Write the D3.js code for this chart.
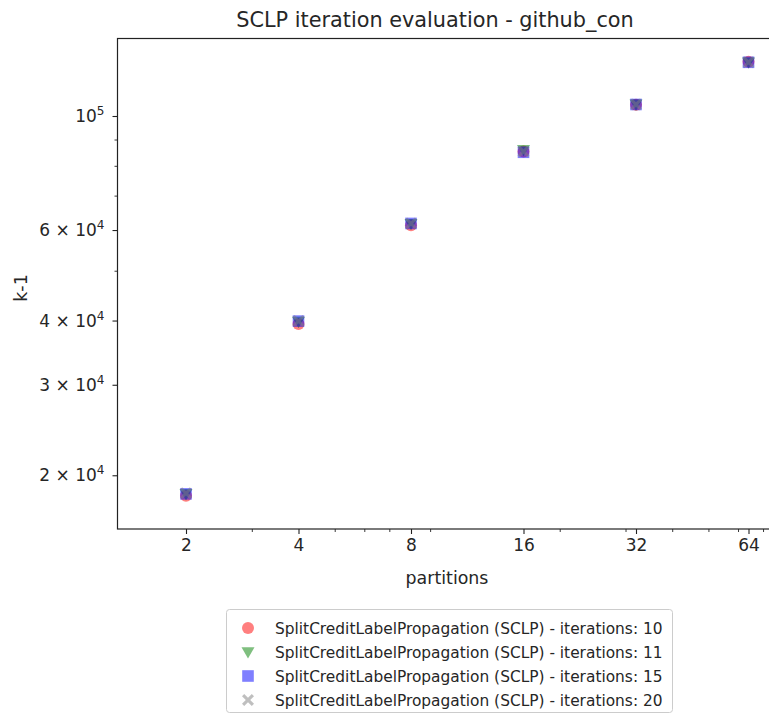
<!DOCTYPE html>
<html><head><meta charset="utf-8">
<script src="https://cdn.jsdelivr.net/npm/d3@7"></script>
<style>body{margin:0;background:#fff;overflow:hidden}svg{display:block}text{font-family:"DejaVu Sans",sans-serif;fill:#262626}</style>
</head><body><div id="chart"></div>
<script>
const partitions = [2, 4, 8, 16, 32, 64];
const iter10 = [18250, 39400, 61300, 85300, 105200, 127500];
const iter11 = [18400, 39800, 61700, 85900, 105300, 127200];
const iter15 = [18400, 39900, 61800, 85000, 105300, 127200];
const iter20 = [18450, 39900, 61800, 85300, 105300, 127200];
const seriesNames = ["SplitCreditLabelPropagation (SCLP) - iterations: 10","SplitCreditLabelPropagation (SCLP) - iterations: 11","SplitCreditLabelPropagation (SCLP) - iterations: 15","SplitCreditLabelPropagation (SCLP) - iterations: 20"];
const seriesValues = [iter10, iter11, iter15, iter20];
const seriesColors = ["#ff0000", "#008000", "#0000ff", "#808080"];
const seriesShapes = ["circle", "triangle", "square", "x"];
const xTicks = [2, 4, 8, 16, 32, 64];
const xMinor = [3,5,6,7,9,20,30,40,50,60,70,80,90];
const yMajor = [20000, 30000, 40000, 60000, 100000];
const yMajorLabels = [["2","4"],["3","4"],["4","4"],["6","4"],[null,"5"]];
const yMinor = [50000, 70000, 80000, 90000];

const W = 769, H = 715;
const L = 117.5, R = 777.5, T = 38.5, B = 529;
const svg = d3.select("#chart").append("svg").attr("width", W).attr("height", H);

const x = d3.scaleLog().base(2)
  .domain([Math.pow(2, 1 - (186 - L) / 112.5), Math.pow(2, 1 + (R - 186) / 112.5)])
  .range([L, R]);
const y = d3.scaleLog().domain([Math.pow(10, 5 - (B - 116) / 514), Math.pow(10, 5 + (116 - T) / 514)]).range([B, T]);

svg.append("clipPath").attr("id","clip").append("rect").attr("x",L).attr("y",T).attr("width",R-L).attr("height",B-T);

function drawMarker(g, shape, cx, cy, color) {
  if (shape === "circle") {
    g.append("circle").attr("cx", cx).attr("cy", cy).attr("r", 6).attr("fill", color).attr("fill-opacity", 0.5);
  } else if (shape === "square") {
    g.append("rect").attr("x", cx - 5.8).attr("y", cy - 5.8).attr("width", 11.6).attr("height", 11.6).attr("fill", color).attr("fill-opacity", 0.5);
  } else if (shape === "triangle") {
    const s = 6.5;
    g.append("path").attr("d", `M${cx - s},${cy - s * 0.75}L${cx + s},${cy - s * 0.75}L${cx},${cy + s}Z`).attr("fill", color).attr("fill-opacity", 0.5);
  } else {
    const a = 6, b = 2.2;
    const p = `M${cx-a+b},${cy-a}L${cx},${cy-b}L${cx+a-b},${cy-a}L${cx+a},${cy-a+b}L${cx+b},${cy}L${cx+a},${cy+a-b}L${cx+a-b},${cy+a}L${cx},${cy+b}L${cx-a+b},${cy+a}L${cx-a},${cy+a-b}L${cx-b},${cy}L${cx-a},${cy-a+b}Z`;
    g.append("path").attr("d", p).attr("fill", color).attr("fill-opacity", 0.5);
  }
}
const plot = svg.append("g").attr("clip-path", "url(#clip)");
seriesValues.forEach((vals, si) => {
  vals.forEach((v, i) => drawMarker(plot, seriesShapes[si], x(partitions[i]), y(v), seriesColors[si]));
});

const stroke = "#222";
const xAxis = d3.axisBottom(x).tickValues(xTicks).tickFormat(d3.format("d")).tickSize(5).tickPadding(5);
const gx = svg.append("g").attr("transform", `translate(0,${B})`).call(xAxis);
gx.select(".domain").remove();
gx.selectAll(".tick line").attr("stroke", stroke).attr("stroke-width", 1.1);
gx.selectAll(".tick text").attr("font-size", 17).attr("font-family", "DejaVu Sans").attr("fill", "#262626");
const gxm = svg.append("g").attr("transform", `translate(0,${B})`).call(d3.axisBottom(x).tickValues(xMinor.filter(v => x(v) <= W)).tickFormat("").tickSize(3));
gxm.select(".domain").remove();
gxm.selectAll(".tick line").attr("stroke", stroke).attr("stroke-width", 0.9);

const gy = svg.append("g").attr("transform", `translate(${L},0)`).call(d3.axisLeft(y).tickValues(yMajor).tickFormat("").tickSize(5));
gy.select(".domain").remove();
gy.selectAll(".tick line").attr("stroke", stroke).attr("stroke-width", 1.1);
const gym = svg.append("g").attr("transform", `translate(${L},0)`).call(d3.axisLeft(y).tickValues(yMinor).tickFormat("").tickSize(3));
gym.select(".domain").remove();
gym.selectAll(".tick line").attr("stroke", stroke).attr("stroke-width", 0.9);
yMajor.forEach((v, i) => {
  const lab = yMajorLabels[i];
  const t = svg.append("text").attr("x", L - 13).attr("y", y(v) + 6).attr("text-anchor", "end").attr("font-size", 17);
  if (lab[0] !== null) t.append("tspan").text(lab[0] + " \u00d7 10");
  else t.append("tspan").text("10");
  t.append("tspan").attr("dy", -7).attr("font-size", 12).text(lab[1]);
});

svg.append("rect").attr("x", L).attr("y", T).attr("width", R - L).attr("height", B - T).attr("fill", "none").attr("stroke", stroke).attr("stroke-width", 1.2);

svg.append("text").attr("x", 435).attr("y", 27).attr("text-anchor", "middle").attr("font-size", 20.8).text("SCLP iteration evaluation - github_con");
svg.append("text").attr("x", 447).attr("y", 584).attr("text-anchor", "middle").attr("font-size", 17.4).text("partitions");
svg.append("text").attr("transform", `translate(27,288) rotate(-90)`).attr("text-anchor", "middle").attr("font-size", 17.4).text("k-1");

const lg = svg.append("g");
lg.append("rect").attr("x", 226.5).attr("y", 609.5).attr("width", 446).attr("height", 103).attr("rx", 3).attr("fill", "#fff").attr("stroke", "#cccccc");
seriesNames.forEach((n, i) => {
  const cy = 628 + i * 24;
  drawMarker(lg, seriesShapes[i], 248, cy, seriesColors[i]);
  lg.append("text").attr("x", 275).attr("y", cy + 5.5).attr("font-size", 15.4).text(n);
});
</script></body></html>
